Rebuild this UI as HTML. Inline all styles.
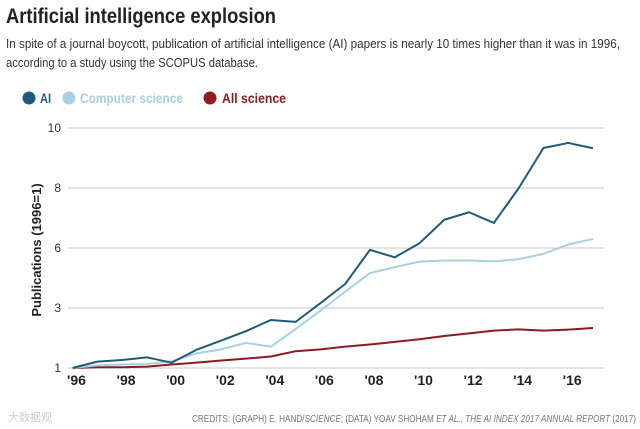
<!DOCTYPE html>
<html><head><meta charset="utf-8"><style>
body{margin:0;background:#fff;width:640px;height:429px;overflow:hidden}
svg{display:block;font-family:"Liberation Sans Narrow","Liberation Sans",sans-serif}
</style></head><body>
<svg id="chart" width="640" height="429">
<text x="6" y="23" font-size="21" font-weight="bold" fill="#222" textLength="270" lengthAdjust="spacingAndGlyphs">Artificial intelligence explosion</text>
<text x="6" y="48" font-size="13" fill="#333" textLength="614" lengthAdjust="spacingAndGlyphs">In spite of a journal boycott, publication of artificial intelligence (AI) papers is nearly 10 times higher than it was in 1996,</text>
<text x="6" y="67" font-size="13" fill="#333" textLength="252" lengthAdjust="spacingAndGlyphs">according to a study using the SCOPUS database.</text>
<g id="legend" font-size="14" font-weight="bold">
<circle cx="29" cy="98" r="6.5" fill="#1d5b78"/>
<text x="40" y="103" fill="#1d5b78" textLength="11" lengthAdjust="spacingAndGlyphs">AI</text>
<circle cx="69" cy="98" r="6.5" fill="#a9d0e0"/>
<text x="80" y="103" fill="#a9d0e0" textLength="103" lengthAdjust="spacingAndGlyphs">Computer science</text>
<circle cx="210" cy="98" r="6.5" fill="#8e1a22"/>
<text x="222" y="103" fill="#8e1a22" textLength="64" lengthAdjust="spacingAndGlyphs">All science</text>
</g>
<text transform="translate(41,250) rotate(-90)" text-anchor="middle" font-size="13" font-weight="bold" fill="#222">Publications (1996=1)</text>
<g id="grid"></g><g id="series"></g><g id="xticks"></g>
<text x="636" y="422" text-anchor="end" font-size="10" fill="#777" textLength="444" lengthAdjust="spacingAndGlyphs">CREDITS: (GRAPH) E. HAND/<tspan font-style="italic">SCIENCE</tspan>; (DATA) YOAV SHOHAM <tspan font-style="italic">ET AL.</tspan>, <tspan font-style="italic">THE AI INDEX 2017 ANNUAL REPORT</tspan> (2017)</text>
<text x="8" y="421" font-size="11" fill="#ccc">大数据观</text>
</svg>
<script>
const years=[1996,1997,1998,1999,2000,2001,2002,2003,2004,2005,2006,2007,2008,2009,2010,2011,2012,2013,2014,2015,2016,2017];
const aiValues=[1,1.24,1.3,1.4,1.2,1.68,2.03,2.38,2.8,2.73,3.43,4.15,5.43,5.15,5.68,6.56,6.84,6.44,7.74,9.25,9.44,9.24];
const csValues=[1,1.1,1.13,1.15,1.25,1.55,1.7,1.94,1.8,2.46,3.15,3.86,4.56,4.78,4.99,5.03,5.03,5.0,5.08,5.28,5.63,5.84];
const allSciValues=[1,1.03,1.03,1.05,1.13,1.2,1.28,1.35,1.43,1.63,1.7,1.8,1.88,1.98,2.08,2.2,2.3,2.4,2.45,2.4,2.44,2.5];
const yTicks=[1,3.25,5.5,7.75,10];
const yTickLabels=['1','3','6','8','10'];
const xTickYears=[1996,1998,2000,2002,2004,2006,2008,2010,2012,2014,2016];
const xTickLabels=["'96","'98","'00","'02","'04","'06","'08","'10","'12","'14","'16"];
const NS='http://www.w3.org/2000/svg';
const xS=y=>72.5+(y-1996)*(593-72.5)/21;
const yS=v=>368-(v-1)/9*240;
function mk(t,a,p){const e=document.createElementNS(NS,t);for(const k in a)e.setAttribute(k,a[k]);p.appendChild(e);return e;}
const grid=document.getElementById('grid');
yTicks.forEach((v,i)=>{
 const l=mk('line',{x1:68,x2:604,y1:yS(v),y2:yS(v),stroke:'#d4d4d4','stroke-width':1.2},grid);
 
 
 const t=mk('text',{x:61,y:yS(v)+4,'text-anchor':'end','font-size':12,fill:'#333'},grid);
 t.textContent=yTickLabels[i];
 
 
});
const xt=document.getElementById('xticks');
xTickYears.forEach((y,i)=>{
 const t=mk('text',{x:xS(y)+4,y:385,'text-anchor':'middle','font-size':14,'font-weight':'bold',fill:'#222'},xt);
 t.textContent=xTickLabels[i];
 
 
});
const sg=document.getElementById('series');
[[allSciValues,'#8e1a22','line-all-science'],[csValues,'#a9d0e0','line-computer-science'],[aiValues,'#1d5b78','line-ai']].forEach(([vals,c,n])=>{
 const p=mk('polyline',{points:vals.map((v,i)=>xS(years[i])+','+yS(v)).join(' '),fill:'none',stroke:c,'stroke-width':2,'stroke-linejoin':'round'},sg);
 
 
});
</script>
</body></html>
